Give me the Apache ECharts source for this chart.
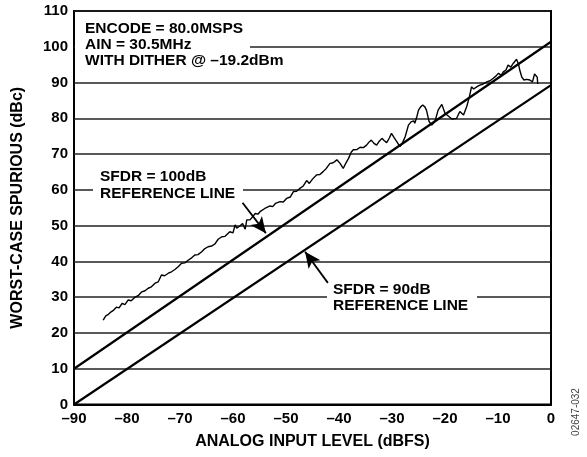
<!DOCTYPE html>
<html><head><meta charset="utf-8">
<script src="https://cdn.jsdelivr.net/npm/echarts@6.0.0/dist/echarts.min.js"></script>
<style>html,body{margin:0;padding:0;background:#fff}#c{width:587px;height:457px}</style>
</head><body><div id="c"></div>
<script>
// Analog input level (dBFS)
const inputLevel = [-84.5,-84.0,-83.5,-83.0,-82.5,-82.0,-81.5,-80.9,-80.4,-79.8,-79.2,-78.5,-77.9,-77.2,-76.6,-76.0,-75.4,-74.7,-74.1,-73.5,-72.9,-72.2,-71.6,-70.9,-70.3,-69.7,-69.1,-68.4,-67.8,-67.2,-66.6,-65.9,-65.3,-64.7,-64.0,-63.4,-62.8,-62.1,-61.5,-60.6,-60.0,-59.6,-59.3,-58.7,-58.2,-57.7,-57.4,-56.8,-56.5,-55.8,-55.3,-54.9,-54.0,-53.0,-52.5,-52.0,-51.1,-50.5,-49.9,-49.2,-48.6,-48.0,-47.4,-46.8,-46.1,-45.6,-45.0,-44.2,-43.6,-43.0,-42.4,-41.7,-41.2,-40.8,-40.4,-39.8,-39.2,-38.7,-38.2,-37.7,-37.3,-36.6,-36.0,-35.4,-34.8,-34.3,-33.9,-33.4,-32.9,-32.4,-31.9,-31.5,-31.0,-30.5,-30.1,-29.6,-29.1,-28.5,-28.0,-27.5,-26.9,-26.4,-25.9,-25.7,-25.3,-25.0,-24.6,-24.2,-23.8,-23.5,-23.0,-22.5,-21.9,-21.3,-20.6,-20.0,-19.5,-18.7,-17.8,-17.2,-16.5,-15.9,-15.4,-15.0,-14.6,-14.3,-13.8,-13.4,-12.8,-12.1,-11.5,-10.9,-10.4,-9.9,-9.4,-9.0,-8.5,-8.1,-7.6,-7.1,-6.5,-6.1,-5.9,-5.5,-5.1,-4.6,-4.0,-3.5,-3.1,-2.8,-2.6,-2.5];
// Worst-case spurious (dBc)
const spurious = [23.6,24.8,25.2,25.9,26.4,27.2,27.0,28.3,27.9,29.2,29.0,30.0,30.4,31.5,31.8,32.5,32.9,33.9,34.3,36.2,36.0,36.7,37.1,37.8,38.6,39.5,39.6,40.4,41.0,41.8,41.9,42.7,43.6,44.1,44.3,44.9,46.2,46.9,47.0,48.3,48.0,50.2,49.3,49.9,50.6,49.0,51.6,51.6,51.1,53.4,53.2,53.9,54.8,55.5,55.3,56.2,56.7,56.6,57.6,58.0,59.5,59.6,60.4,61.0,62.6,61.8,63.0,64.2,64.3,65.1,66.0,67.4,67.5,67.9,68.4,67.4,66.0,67.5,68.8,70.5,71.2,71.3,71.9,71.8,72.5,73.4,73.9,73.0,72.5,73.6,74.4,73.8,73.2,74.5,75.8,74.6,73.5,72.1,73.2,74.9,78.1,79.0,79.3,78.6,80.5,82.3,83.2,83.7,83.2,82.3,79.1,78.1,79.1,82.3,83.9,81.4,80.8,79.8,80.0,81.9,80.9,83.3,86.0,88.8,88.2,88.4,89.0,89.3,89.6,90.2,90.5,91.2,91.8,92.6,92.0,93.0,93.5,94.9,94.3,95.4,96.5,95.0,93.5,91.5,90.7,90.9,90.7,90.2,92.4,92.0,91.5,89.6];
// Reference lines
const refX = [-90, 0];
const ref100 = [10, 101.4];
const ref90 = [0, 89.3];
// Arrow annotations [tail, tip] in data coords
const arrow100 = [[-58.2, 56.4], [-53.8, 47.9]];
const arrow90 = [[-42.1, 34.0], [-46.4, 42.7]];

const FONT = 'Liberation Sans, Arial, sans-serif';
const zip = (a, b) => a.map((v, i) => [v, b[i]]);
const dash = v => String(v).replace('-', '\u2013');

const chart = echarts.init(document.getElementById('c'), null, {renderer: 'canvas'});
const textStyle = {fontFamily: FONT, fontWeight: 'bold', fontSize: 15.5, fill: '#000'};
function txt(x, y, s) {
  return {type: 'text', x: x, y: y, z: 20, style: Object.assign({text: s, verticalAlign: 'middle', align: 'left'}, textStyle)};
}
function whiteRect(x, y, w, h) {
  return {type: 'rect', z: 15, shape: {x: x, y: y, width: w, height: h}, style: {fill: '#fff'}};
}
chart.setOption({
  animation: false,
  backgroundColor: '#fff',
  grid: {left: 74, right: 36, top: 11, bottom: 52.5, show: true, borderColor: '#000', borderWidth: 2, backgroundColor: 'transparent'},
  xAxis: {
    type: 'value', min: -90, max: 0, interval: 10,
    axisLine: {show: true, lineStyle: {color: '#000', width: 2}},
    axisTick: {show: false},
    splitLine: {show: false},
    axisLabel: {formatter: dash, color: '#000', fontFamily: FONT, fontWeight: 'bold', fontSize: 15, margin: 7},
    name: 'ANALOG INPUT LEVEL (dBFS)', nameLocation: 'middle', nameGap: 29,
    nameTextStyle: {color: '#000', fontFamily: FONT, fontWeight: 'bold', fontSize: 16}
  },
  yAxis: {
    type: 'value', min: 0, max: 110, interval: 10,
    axisLine: {show: true, lineStyle: {color: '#000', width: 2}},
    axisTick: {show: false},
    splitLine: {show: true, lineStyle: {color: '#222', width: 1.5}},
    axisLabel: {color: '#000', fontFamily: FONT, fontWeight: 'bold', fontSize: 15, margin: 6},
    name: 'WORST-CASE SPURIOUS (dBc)', nameLocation: 'middle', nameGap: 48,
    nameTextStyle: {color: '#000', fontFamily: FONT, fontWeight: 'bold', fontSize: 16}
  },
  series: [
    {type: 'line', data: zip(inputLevel, spurious), symbol: 'none', lineStyle: {color: '#000', width: 1.4}, z: 3},
    {type: 'line', data: zip(refX, ref100), symbol: 'none', lineStyle: {color: '#000', width: 2.2}, z: 3,
      markLine: {silent: true, symbol: ['none', 'arrow'], symbolSize: [11, 16], label: {show: false},
        lineStyle: {color: '#000', width: 1.8, type: 'solid'},
        data: [[{coord: arrow100[0]}, {coord: arrow100[1]}], [{coord: arrow90[0]}, {coord: arrow90[1]}]]}},
    {type: 'line', data: zip(refX, ref90), symbol: 'none', lineStyle: {color: '#000', width: 2.2}, z: 3}
  ],
  graphic: [
    whiteRect(75, 39, 175, 14),
    txt(85, 29, 'ENCODE = 80.0MSPS'),
    txt(85, 45, 'AIN = 30.5MHz'),
    txt(85, 61, 'WITH DITHER @ \u201319.2dBm'),
    whiteRect(93, 184, 150, 12),
    txt(100, 177, 'SFDR = 100dB'),
    txt(100, 193.5, 'REFERENCE LINE'),
    whiteRect(327, 291, 150, 12),
    txt(333, 289.5, 'SFDR = 90dB'),
    txt(333, 305.5, 'REFERENCE LINE'),
    {type: 'text', x: 576, y: 412, rotation: Math.PI / 2, z: 20,
      style: {text: '02647-032', align: 'center', verticalAlign: 'middle', fontFamily: FONT, fontSize: 10, fill: '#444'}}
  ]
});
</script>
</body></html>
